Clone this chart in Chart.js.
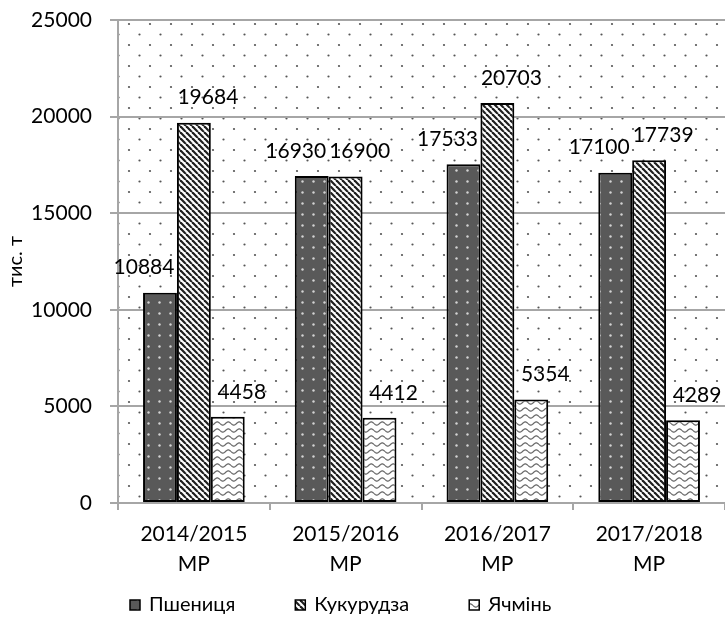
<!DOCTYPE html>
<html>
<head>
<meta charset="utf-8">
<script src="https://cdn.jsdelivr.net/npm/chart.js@4.4.1/dist/chart.umd.min.js"></script>
<style>
  body { margin: 0; background: #fff; }
  #wrap { width: 725px; height: 620px; }
</style>
</head>
<body>
<div id="wrap"><canvas id="grainChart" width="725" height="620"></canvas></div>
<script>
// Дані
const seasons = [['2014/2015', 'МР'], ['2015/2016', 'МР'], ['2016/2017', 'МР'], ['2017/2018', 'МР']];
const wheat = [10884, 16930, 17533, 17100];
const corn = [19684, 16900, 20703, 17739];
const barley = [4458, 4412, 5354, 4289];
const seriesNames = ['Пшениця', 'Кукурудза', 'Ячмінь'];
const yTicks = [0, 5000, 10000, 15000, 20000, 25000];

const FONT = 'Lato, "Open Sans", sans-serif';

function makePattern(w, h, draw) {
    const c = document.createElement('canvas');
    c.width = w;
    c.height = h;
    const g = c.getContext('2d');
    draw(g, w, h);
    return g.createPattern(c, 'repeat');
}

function dot(g, x, y, r, color) {
    g.fillStyle = color;
    g.beginPath();
    g.arc(x, y, r, 0, Math.PI * 2);
    g.fill();
}

// фон області побудови - крапки
const plotDots = makePattern(21, 21, (g, w, h) => {
    g.fillStyle = '#fff';
    g.fillRect(0, 0, w, h);
    dot(g, 3, 3, 1.1, '#555');
    dot(g, 13.5, 13.5, 1.1, '#555');
});

// пшениця - темна з світлими крапками
const wheatFill = makePattern(11, 11, (g, w, h) => {
    g.fillStyle = '#595959';
    g.fillRect(0, 0, w, h);
    dot(g, 5.5, 5.5, 1.2, '#d4d4d4');
});

// кукурудза - діагональні смуги
const cornFill = makePattern(6, 6, (g, w, h) => {
    g.fillStyle = '#fff';
    g.fillRect(0, 0, w, h);
    g.strokeStyle = '#1e1e1e';
    g.lineWidth = 2.2;
    for (let k = -1; k <= 1; k++) {
        g.beginPath();
        g.moveTo(k * w, 0);
        g.lineTo(k * w + w, h);
        g.stroke();
    }
});

// ячмінь - хвилясті лінії
const barleyFill = makePattern(11, 7, (g, w, h) => {
    g.fillStyle = '#fff';
    g.fillRect(0, 0, w, h);
    g.strokeStyle = '#666';
    g.lineWidth = 1.2;
    g.beginPath();
    for (let x = 0; x <= w; x += 0.5) {
        const y = 3.5 + 1.6 * Math.sin(2 * Math.PI * x / w);
        if (x === 0) g.moveTo(x, y); else g.lineTo(x, y);
    }
    g.stroke();
});

// фон області побудови
const plotBackground = {
    id: 'plotBackground',
    beforeDraw(chart) {
        const a = chart.chartArea;
        const ctx = chart.ctx;
        ctx.save();
        ctx.fillStyle = plotDots;
        ctx.fillRect(a.left, a.top, a.right - a.left, a.bottom - a.top);
        ctx.restore();
    }
};

// підписи значень над стовпцями
const labelShift = [-16, 14, 14];
const valueLabels = {
    id: 'valueLabels',
    afterDatasetsDraw(chart) {
        const ctx = chart.ctx;
        ctx.save();
        ctx.font = '21px ' + FONT;
        ctx.fillStyle = '#000';
        ctx.textAlign = 'center';
        ctx.textBaseline = 'middle';
        chart.data.datasets.forEach((ds, i) => {
            chart.getDatasetMeta(i).data.forEach((bar, j) => {
                ctx.fillText(String(ds.data[j]), bar.x + labelShift[i], bar.y - 25);
            });
        });
        ctx.restore();
    }
};

// легенда
const bottomLegend = {
    id: 'bottomLegend',
    afterDraw(chart) {
        const ctx = chart.ctx;
        ctx.save();
        ctx.font = '20px ' + FONT;
        ctx.textBaseline = 'middle';
        let x = 130;
        const y = 605;
        chart.data.datasets.forEach(ds => {
            ctx.fillStyle = ds.backgroundColor;
            ctx.fillRect(x, y - 5, 10, 10);
            ctx.strokeStyle = '#000';
            ctx.lineWidth = 1.5;
            ctx.strokeRect(x, y - 5, 10, 10);
            ctx.fillStyle = '#000';
            ctx.fillText(ds.label, x + 19, y);
            x += 19 + ctx.measureText(ds.label).width + 60;
        });
        ctx.restore();
    }
};

const ctx = document.getElementById('grainChart').getContext('2d');
const chart = new Chart(ctx, {
    type: 'bar',
    data: {
        labels: seasons,
        datasets: [
            { label: seriesNames[0], data: wheat, backgroundColor: wheatFill },
            { label: seriesNames[1], data: corn, backgroundColor: cornFill },
            { label: seriesNames[2], data: barley, backgroundColor: barleyFill }
        ]
    },
    options: {
        responsive: false,
        animation: false,
        devicePixelRatio: 1,
        layout: { padding: { top: 20, right: 0, bottom: 0, left: 0 } },
        datasets: {
            bar: {
                borderColor: '#000',
                borderWidth: 2,
                borderSkipped: false,
                categoryPercentage: 0.67,
                barPercentage: 1
            }
        },
        plugins: {
            legend: { display: false },
            tooltip: { enabled: false }
        },
        scales: {
            x: {
                grid: { drawOnChartArea: false, drawTicks: true, tickLength: 7, color: '#a6a6a6', lineWidth: 2, offset: true },
                border: { color: '#a6a6a6', width: 2 },
                ticks: {
                    color: '#000',
                    padding: 9,
                    maxRotation: 0,
                    autoSkip: false,
                    font: { family: FONT, size: 21, lineHeight: 1.45 }
                },
                afterFit(scale) { scale.height = 117; }
            },
            y: {
                min: 0,
                max: 25000,
                afterBuildTicks(scale) { scale.ticks = yTicks.map(v => ({ value: v })); },
                grid: { color: '#a6a6a6', lineWidth: 2, tickLength: 8 },
                border: { color: '#a6a6a6', width: 2 },
                ticks: {
                    color: '#000',
                    padding: 18,
                    font: { family: FONT, size: 21 },
                    callback: v => String(v)
                },
                title: {
                    display: true,
                    text: 'тис. т',
                    color: '#000',
                    padding: { top: 4, bottom: 0 },
                    font: { family: FONT, size: 20 }
                },
                afterFit(scale) {
                    scale.width = 118;
                    scale.paddingTop = 0;
                    scale.paddingBottom = 0;
                }
            }
        }
    },
    plugins: [plotBackground, valueLabels, bottomLegend]
});
</script>
</body>
</html>
